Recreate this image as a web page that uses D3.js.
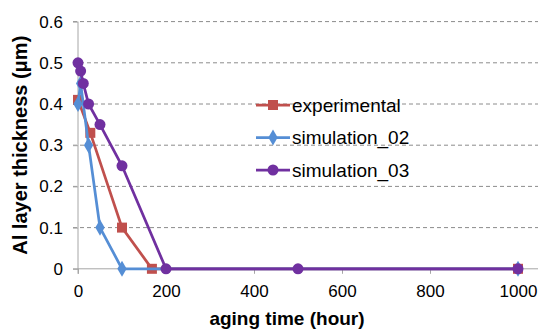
<!DOCTYPE html>
<html>
<head>
<meta charset="utf-8">
<script src="https://cdn.jsdelivr.net/npm/d3@7"></script>
<style>
  body { margin: 0; background: #fff; }
  svg { font-family: "Liberation Sans", Arial, sans-serif; }
  .grid line { stroke: #8c8c8c; stroke-dasharray: 4,3; }
  .axis path, .axis line { stroke: #a6a6a6; }
  .axis text { font-size: 17px; fill: #000; }
</style>
</head>
<body>
<svg id="chart" width="543" height="331"></svg>
<script>
// data
const seriesNames = ['experimental', 'simulation_02', 'simulation_03'];
const expHours = [0, 28, 100, 168, 1000];
const expThick = [0.41, 0.33, 0.1, 0, 0];
const sim02Hours = [0, 6, 24, 50, 100, 1000];
const sim02Thick = [0.4, 0.45, 0.3, 0.1, 0, 0];
const sim03Hours = [0, 6, 12, 24, 50, 100, 200, 500, 1000];
const sim03Thick = [0.5, 0.48, 0.45, 0.4, 0.35, 0.25, 0, 0, 0];
const xTicks = [0, 200, 400, 600, 800, 1000];
const yTicks = [0, 0.1, 0.2, 0.3, 0.4, 0.5, 0.6];

const colors = ['#c0504d', '#558ed5', '#7030a0'];
const shapes = [d3.symbolSquare, d3.symbolDiamond, d3.symbolCircle];
const sizes = [100, 75, 95];

const svg = d3.select('#chart'),
  margin = {top: 21.6, right: 25, bottom: 62, left: 78},
  width = 518 - margin.left,
  height = 268.8 - margin.top,
  g = svg.append('g').attr('transform', 'translate(' + margin.left + ',' + margin.top + ')');

const x = d3.scaleLinear().domain([0, 1000]).range([0, width]);
const y = d3.scaleLinear().domain([0, 0.6]).range([height, 0]);

// dashed gridlines
g.append('g')
  .attr('class', 'grid')
  .selectAll('line')
  .data(yTicks.filter(function (d) { return d > 0; }))
  .enter().append('line')
  .attr('x1', -5)
  .attr('x2', width + 20)
  .attr('y1', function (d) { return y(d); })
  .attr('y2', function (d) { return y(d); });

g.append('g')
  .attr('class', 'axis axis--y')
  .call(d3.axisLeft(y).tickValues(yTicks).tickFormat(d3.format('')).tickSize(5).tickPadding(10))
  .call(function (a) { a.select('.domain').attr('d', 'M0,' + (height + 5) + 'V0'); });

g.append('g')
  .attr('class', 'axis axis--x')
  .attr('transform', 'translate(0,' + height + ')')
  .call(d3.axisBottom(x).tickValues(xTicks).tickFormat(d3.format('d')).tickSize(5).tickPadding(11))
  .call(function (a) { a.select('.domain').attr('d', 'M-5,0H' + (width + 20)); });

svg.append('text')
  .attr('transform', 'translate(27,' + (margin.top + height / 2) + ') rotate(-90)')
  .attr('text-anchor', 'middle')
  .style('font-size', '20px')
  .style('font-weight', 'bold')
  .text('Al layer thickness (μm)');

svg.append('text')
  .attr('x', 287)
  .attr('y', 325)
  .attr('text-anchor', 'middle')
  .style('font-size', '19px')
  .style('font-weight', 'bold')
  .text('aging time (hour)');

const series = [
  {name: seriesNames[0], values: expHours.map(function (h, i) { return {h: h, v: expThick[i]}; })},
  {name: seriesNames[1], values: sim02Hours.map(function (h, i) { return {h: h, v: sim02Thick[i]}; })},
  {name: seriesNames[2], values: sim03Hours.map(function (h, i) { return {h: h, v: sim03Thick[i]}; })}
];

const line = d3.line()
  .x(function (d) { return x(d.h); })
  .y(function (d) { return y(d.v); });

series.forEach(function (s, i) {
  const sg = g.append('g');
  sg.append('path')
    .attr('d', line(s.values))
    .attr('fill', 'none')
    .attr('stroke', colors[i])
    .attr('stroke-width', 2.75);
  sg.selectAll('.pt')
    .data(s.values)
    .enter().append('path')
    .attr('transform', function (d) { return 'translate(' + x(d.h) + ',' + y(d.v) + ')'; })
    .attr('d', d3.symbol().type(shapes[i]).size(sizes[i]))
    .attr('fill', colors[i]);
});

// legend
const legend = svg.append('g').attr('transform', 'translate(256,105)');
seriesNames.forEach(function (n, i) {
  const lg = legend.append('g').attr('transform', 'translate(0,' + (i * 32.5) + ')');
  lg.append('line')
    .attr('x1', 0).attr('x2', 34)
    .attr('stroke', colors[i]).attr('stroke-width', 2.75);
  lg.append('path')
    .attr('transform', 'translate(17,0)')
    .attr('d', d3.symbol().type(shapes[i]).size(sizes[i]))
    .attr('fill', colors[i]);
  lg.append('text')
    .attr('x', 36)
    .attr('dy', '0.35em')
    .style('font-size', '19px')
    .text(n);
});
</script>
</body>
</html>
